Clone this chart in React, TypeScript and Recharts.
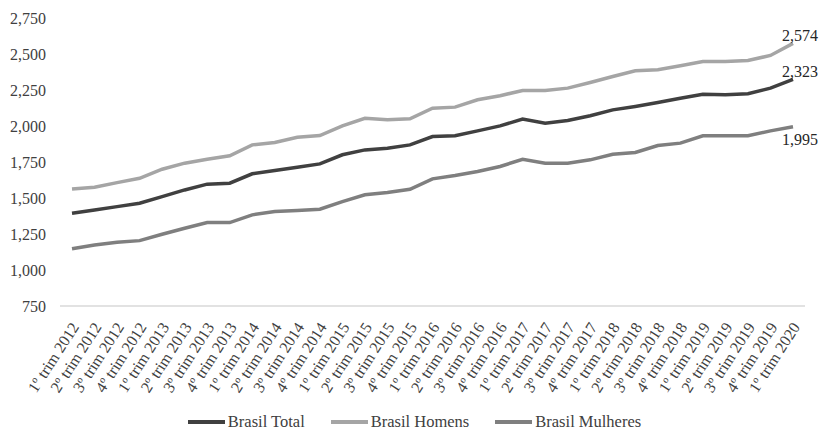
import { LabelList, Legend, Line, LineChart, XAxis, YAxis } from "recharts";

const quarters = [
  "1º trim 2012", "2º trim 2012", "3º trim 2012", "4º trim 2012",
  "1º trim 2013", "2º trim 2013", "3º trim 2013", "4º trim 2013",
  "1º trim 2014", "2º trim 2014", "3º trim 2014", "4º trim 2014",
  "1º trim 2015", "2º trim 2015", "3º trim 2015", "4º trim 2015",
  "1º trim 2016", "2º trim 2016", "3º trim 2016", "4º trim 2016",
  "1º trim 2017", "2º trim 2017", "3º trim 2017", "4º trim 2017",
  "1º trim 2018", "2º trim 2018", "3º trim 2018", "4º trim 2018",
  "1º trim 2019", "2º trim 2019", "3º trim 2019", "4º trim 2019",
  "1º trim 2020",
];

const total = [
  1394, 1417, 1440, 1464, 1510, 1556, 1596, 1603, 1668, 1691, 1714, 1737,
  1800, 1834, 1846, 1869, 1927, 1932, 1966, 2001, 2048, 2020, 2038, 2071,
  2112, 2136, 2163, 2193, 2221, 2217, 2224, 2263, 2323,
];

const homens = [
  1563, 1575, 1607, 1637, 1700, 1742, 1769, 1793, 1869, 1885, 1922, 1934,
  2001, 2054, 2043, 2050, 2124, 2131, 2182, 2210, 2247, 2247, 2263, 2302,
  2344, 2383, 2390, 2418, 2448, 2448, 2455, 2490, 2574,
];

const mulheres = [
  1148, 1173, 1193, 1204, 1248, 1290, 1329, 1329, 1383, 1406, 1413, 1422,
  1475, 1522, 1538, 1561, 1633, 1656, 1684, 1719, 1769, 1742, 1742, 1765,
  1804, 1816, 1864, 1881, 1932, 1932, 1932, 1966, 1995,
];

const yTicks = [750, 1000, 1250, 1500, 1750, 2000, 2250, 2500, 2750];

const series = [
  { key: "total", name: "Brasil Total", color: "#404040", labelDy: -8 },
  { key: "homens", name: "Brasil Homens", color: "#a5a5a5", labelDy: -8 },
  { key: "mulheres", name: "Brasil Mulheres", color: "#7f7f7f", labelDy: 13 },
];

const data = quarters.map((q, i) => ({
  quarter: q,
  total: total[i],
  homens: homens[i],
  mulheres: mulheres[i],
}));

const fmt = (v: number) => v.toLocaleString("en-US");
const FONT = "'Liberation Serif', 'Times New Roman', serif";

function XTick({ x, y, payload }: any) {
  const ax = x + 3;
  const ay = y + 10;
  return (
    <text
      x={ax}
      y={ay}
      transform={`rotate(-57, ${ax}, ${ay})`}
      textAnchor="end"
      dominantBaseline="central"
      fontSize={16}
      fill="#404040"
      fontFamily={FONT}
    >
      {payload.value}
    </text>
  );
}

const endLabel = (dy: number) => (props: any) => {
  const { x, y, index, value } = props;
  if (index !== quarters.length - 1) return null;
  return (
    <text
      x={x + 7}
      y={y + dy}
      textAnchor="middle"
      dominantBaseline="central"
      fontSize={16}
      fill="#262626"
      fontFamily={FONT}
    >
      {fmt(value)}
    </text>
  );
};

function LegendBox() {
  return (
    <div
      style={{
        display: "flex",
        justifyContent: "center",
        alignItems: "center",
        gap: 26,
        height: 22,
        paddingTop: 3,
        paddingLeft: 24,
        boxSizing: "border-box",
        fontFamily: FONT,
        fontSize: 16.5,
        color: "#404040",
      }}
    >
      {series.map((s) => (
        <div key={s.key} style={{ display: "flex", alignItems: "center", gap: 3 }}>
          <span style={{ display: "inline-block", width: 37, height: 4, background: s.color }} />
          <span>{s.name}</span>
        </div>
      ))}
    </div>
  );
}

export default function App() {
  return (
    <div style={{ position: "absolute", left: 0, top: 0, width: 822, height: 431, background: "#fff" }}>
      <LineChart
        width={822}
        height={431}
        data={data}
        margin={{ top: 18, right: 17, bottom: 0, left: 0 }}
      >
        <XAxis
          dataKey="quarter"
          interval={0}
          height={103}
          tickLine={false}
          axisLine={{ stroke: "#d9d9d9", strokeWidth: 1.5 }}
          padding={{ left: 12, right: 12 }}
          tick={<XTick />}
        />
        <YAxis
          width={60}
          domain={[750, 2750]}
          ticks={yTicks}
          tickFormatter={fmt}
          axisLine={false}
          tickLine={false}
          tickMargin={8}
          tick={{ fontSize: 16, fill: "#404040", fontFamily: FONT }}
        />
        <Legend verticalAlign="bottom" height={22} content={<LegendBox />} />
        {series.map((s) => (
          <Line
            key={s.key}
            type="linear"
            dataKey={s.key}
            name={s.name}
            stroke={s.color}
            strokeWidth={3.5}
            dot={false}
            isAnimationActive={false}
          >
            <LabelList dataKey={s.key} content={endLabel(s.labelDy)} />
          </Line>
        ))}
      </LineChart>
    </div>
  );
}
